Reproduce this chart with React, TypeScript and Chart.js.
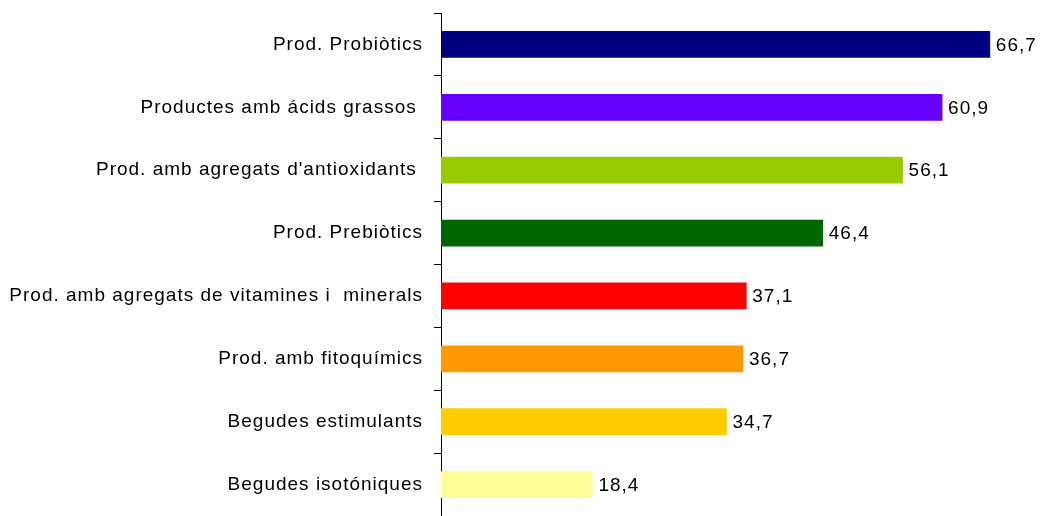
import React, { useEffect, useRef } from "react";
import { Chart, registerables } from "chart.js";

Chart.register(...registerables);

const categories = [
  "Prod. Probiòtics",
  "Productes amb ácids grassos ",
  "Prod. amb agregats d'antioxidants ",
  "Prod. Prebiòtics",
  "Prod. amb agregats de vitamines i  minerals",
  "Prod. amb fitoquímics",
  "Begudes estimulants",
  "Begudes isotóniques",
];
const values = [66.7, 60.9, 56.1, 46.4, 37.1, 36.7, 34.7, 18.4];
const valueLabels = ["66,7", "60,9", "56,1", "46,4", "37,1", "36,7", "34,7", "18,4"];
const barColors = [
  "#000080",
  "#6600FF",
  "#99CC00",
  "#006600",
  "#FF0000",
  "#FF9900",
  "#FFCC00",
  "#FFFF99",
];

const FONT = "'Liberation Sans', Arial, sans-serif";

const spacingPlugin = {
  id: "spacing",
  beforeDraw(chart: any) {
    chart.ctx.letterSpacing = "1px";
  },
};

const valueLabelPlugin = {
  id: "valueLabels",
  afterDatasetsDraw(chart: any) {
    const ctx = chart.ctx;
    const meta = chart.getDatasetMeta(0);
    ctx.save();
    ctx.letterSpacing = "1px";
    ctx.font = `19px ${FONT}`;
    ctx.fillStyle = "#000";
    ctx.textAlign = "left";
    ctx.textBaseline = "middle";
    meta.data.forEach((bar: any, i: number) => {
      ctx.fillText(valueLabels[i], bar.x + 6, bar.y + 1);
    });
    ctx.restore();
  },
};

export default function App() {
  const ref = useRef<HTMLCanvasElement | null>(null);
  useEffect(() => {
    if (!ref.current) return;
    const chart = new Chart(ref.current, {
      type: "bar",
      data: {
        labels: categories,
        datasets: [
          {
            data: values,
            backgroundColor: barColors,
            borderWidth: 0,
            barThickness: 26,
          },
        ],
      },
      options: {
        indexAxis: "y",
        responsive: false,
        animation: false,
        layout: { padding: { top: 13, right: 24, bottom: 0, left: 0 } },
        plugins: {
          legend: { display: false },
          tooltip: { enabled: false },
        },
        scales: {
          x: {
            display: false,
            min: 0,
            max: 70,
          },
          y: {
            afterFit(scale: any) {
              scale.width = 441;
              scale.paddingTop = 0;
              scale.paddingBottom = 0;
            },
            border: { display: true, color: "#000", width: 1 },
            grid: {
              offset: true,
              drawOnChartArea: false,
              drawTicks: true,
              tickLength: 7,
              color: "#000",
            },
            ticks: {
              padding: 11,
              color: "#000",
              font: { family: FONT, size: 19 },
              autoSkip: false,
            },
          },
        },
      },
      plugins: [spacingPlugin, valueLabelPlugin],
    });
    return () => chart.destroy();
  }, []);
  return (
    <div style={{ position: "absolute", left: 0, top: 0, width: 1041, height: 516, background: "#fff" }}>
      <canvas ref={ref} width={1041} height={516} style={{ display: "block" }} />
    </div>
  );
}
